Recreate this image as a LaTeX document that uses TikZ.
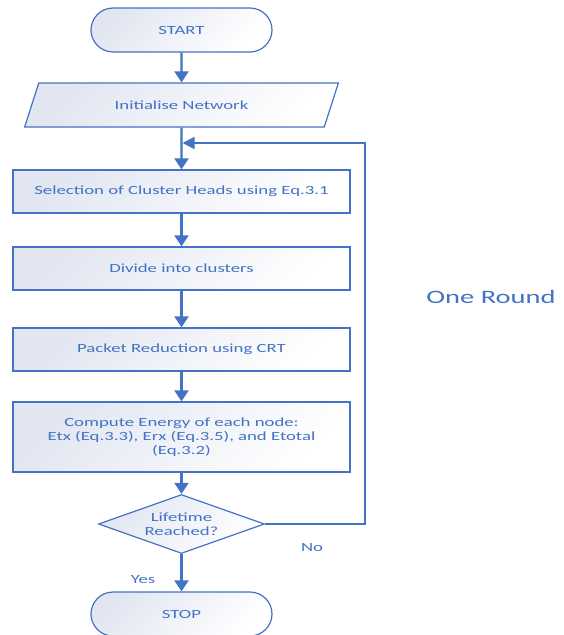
\documentclass[tikz,border=0pt]{standalone}
\usepackage{fontspec}
\setmainfont[FakeStretch=1.5]{Carlito}
\usetikzlibrary{shapes.geometric,shapes.misc,arrows.meta}

\definecolor{flowblue}{HTML}{4472C4}
\definecolor{flowfill}{HTML}{E1E6F1}

\tikzset{
  flowshade/.style={draw=flowblue, line width=1.2pt, top color=flowfill,
    bottom color=white, shading angle=45, text=flowblue, align=center,
    inner sep=0pt, font=\fontsize{12.5}{14}\selectfont},
  procbox/.style={flowshade, rectangle, minimum width=337, minimum height=43},
  termbox/.style={flowshade, rounded rectangle, minimum width=181, minimum height=44},
  iobox/.style={flowshade, trapezium, trapezium left angle=53,
    trapezium right angle=127, trapezium stretches=true,
    minimum width=314, minimum height=44},
  decbox/.style={flowshade, diamond, aspect=2.8, minimum width=166, minimum height=59},
  flowarrow/.style={draw=flowblue, line width=2.2pt, -{Triangle[length=11pt,width=14pt]}},
  looparrow/.style={draw=flowblue, line width=1.5pt, -{Triangle[length=12pt,width=12pt]}},
  flowlabel/.style={text=flowblue, font=\fontsize{12.5}{14}\selectfont}
}

\begin{document}
\begin{tikzpicture}[x=1pt, y=-1pt]
  \useasboundingbox (0,0) rectangle (563,635);

  % Flow steps
  \node[termbox] (start)  at (181.5,30)    {START};
  \node[iobox]   (init)   at (181.5,105)   {Initialise Network};
  \node[procbox] (heads)  at (181.5,191.5) {Selection of Cluster Heads using Eq.3.1};
  \node[procbox] (divide) at (181.5,268.5) {Divide into clusters};
  \node[procbox] (packet) at (181.5,349.5) {Packet Reduction using CRT};
  \node[procbox, minimum height=70] (energy) at (181.5,437)
    {Compute Energy of each node:\\Etx (Eq.3.3), Erx (Eq.3.5), and Etotal\\(Eq.3.2)};
  \node[decbox]  (life)   at (181.5,524)   {Lifetime\\Reached?};
  \node[termbox] (stop)   at (181.5,614)   {STOP};

  % Main flow
  \draw[flowarrow] (start) -- (init);
  \draw[flowarrow] (init) -- (heads);
  \draw[flowarrow] (heads) -- (divide);
  \draw[flowarrow] (divide) -- (packet);
  \draw[flowarrow] (packet) -- (energy);
  \draw[flowarrow] (energy) -- (life);
  \draw[flowarrow] (life) -- (stop);

  % Loop back to cluster head selection
  \coordinate (loopin) at ([xshift=1pt]init.south |- 0,143);
  \draw[looparrow] (life.east) -| (365,143) -- (loopin);

  % Labels
  \node[flowlabel] (no)    at (312,548) {No};
  \node[flowlabel] (yes)   at (143,580) {Yes};
  \node[flowlabel, font=\fontsize{19}{21}\selectfont] (round) at (491,297) {One Round};

\end{tikzpicture}
\end{document}
